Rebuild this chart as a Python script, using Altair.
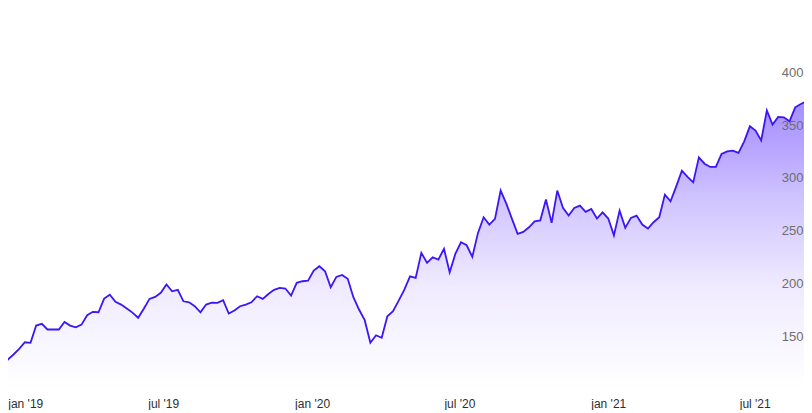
import altair as alt
import pandas as pd

values = [
    140, 119.4, 128, 132.7, 138.1, 144.3, 143.8, 160.1, 161.7, 156.4,
    156.4, 156.4, 163.6, 160.1, 158.5, 161, 169.9, 173.1, 172.7, 185.7,
    189.4, 182.6, 180, 176.2, 172.4, 167.5, 176, 185.4, 187.3, 191.1,
    199, 192.6, 193.9, 183.1, 182.2, 178.4, 172.7, 180, 181.9, 181.6,
    184.1, 171.5, 174.3, 178.4, 180, 182.2, 187.9, 185.4, 190, 194,
    195.8, 195.2, 188.5, 200.6, 202.1, 202.7, 212.2, 216.3, 211.6, 196.4,
    206.2, 208.1, 204.4, 187, 175.3, 165.2, 143.8, 150.9, 148.5, 168.9,
    173.7, 183.8, 194.2, 206.8, 205.3, 229, 219.5, 224.8, 222.6, 232.8,
    210.6, 228, 239, 236.2, 225.2, 247.9, 262.7, 255.8, 261.2, 288,
    275.7, 261.2, 247, 248.9, 253.2, 258.9, 259.8, 279.5, 257.4, 288,
    271.6, 264.3, 271.6, 273.8, 267.8, 270.6, 261.5, 267.4, 261.5, 245.6,
    269, 252.7, 262.1, 264.3, 255.8, 252, 258, 262.7, 284.2, 277.8,
    292, 306.9, 301, 295.8, 319.5, 313.5, 310.4, 310.4, 322.7, 325.2,
    325.9, 323.7, 334.7, 348.9, 344.8, 335.6, 364, 350.5, 357.8, 357.4,
    353.6, 366.9, 370.1, 372.5, 360,
]
dates = pd.date_range(start="2018-12-07", periods=len(values), freq="7D")

y_ticks = [150, 200, 250, 300, 350, 400]
y_min = 100
y_max = 461
x_ticks = [
    alt.DateTime(year=2019, month=1, date=1),
    alt.DateTime(year=2019, month=7, date=1),
    alt.DateTime(year=2020, month=1, date=1),
    alt.DateTime(year=2020, month=7, date=1),
    alt.DateTime(year=2021, month=1, date=1),
    alt.DateTime(year=2021, month=7, date=1),
]

df = pd.DataFrame({"date": dates, "value": values})

x_enc = alt.X(
    "date:T",
    scale=alt.Scale(
        domain=[
            alt.DateTime(year=2018, month=12, date=21, hours=4, minutes=2),
            alt.DateTime(year=2021, month=8, date=30, hours=21, minutes=36),
        ]
    ),
    axis=alt.Axis(
        values=x_ticks,
        labelExpr="lower(timeFormat(datum.value, '%b')) + \" '\" + timeFormat(datum.value, '%y')",
        title=None,
        grid=False,
        domain=False,
        ticks=False,
        tickSize=0,
        labelPadding=9,
        labelFontSize=12,
        labelColor="#2e2e2e",
        labelFont="Liberation Sans",
        labelFlush=10,
        labelFlushOffset=9,
    ),
)
y_enc = alt.Y(
    "value:Q",
    scale=alt.Scale(domain=[y_min, y_max], zero=False, nice=False),
    axis=alt.Axis(
        values=y_ticks,
        orient="right",
        title=None,
        grid=False,
        domain=False,
        ticks=False,
        tickSize=0,
        labelAlign="right",
        labelPadding=-1,
        labelFontSize=13,
        labelColor="#6e6e6e",
        labelFont="Liberation Sans",
        zindex=1,
    ),
)

gradient = alt.Gradient(
    gradient="linear",
    stops=[
        alt.GradientStop(offset=0, color="#a68eff"),
        alt.GradientStop(offset=0.17, color="#b8a6ff"),
        alt.GradientStop(offset=0.34, color="#d0c4ff"),
        alt.GradientStop(offset=0.64, color="#efeaff"),
        alt.GradientStop(offset=0.82, color="#f7f5ff"),
        alt.GradientStop(offset=1, color="#ffffff"),
    ],
    x1=0, x2=0, y1=0, y2=1,
)

base = alt.Chart(df).encode(x=x_enc, y=y_enc)
area = base.mark_area(color=gradient, clip=True).encode(y2=alt.datum(y_min))
line = base.mark_line(color="#3c16f5", strokeWidth=1.8, clip=True)

chart = (
    alt.layer(area, line)
    .properties(
        width=796,
        height=381,
        autosize=alt.AutoSizeParams(type="none"),
        padding={"left": 0, "top": 0, "right": 0, "bottom": 21},
        background="white",
    )
    .configure_view(strokeWidth=0)
)

chart.save("out.html", embed_options={"renderer": "svg", "actions": False})
